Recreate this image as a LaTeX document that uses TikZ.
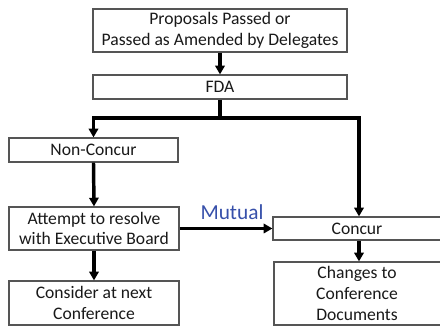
\documentclass[tikz,border=0pt]{standalone}
\usepackage{fontspec}
\setmainfont{Carlito}
\usepackage{tikz}
\usetikzlibrary{arrows.meta}

\definecolor{boxline}{RGB}{85,85,85}
\definecolor{boxtext}{RGB}{25,25,25}
\definecolor{mutualblue}{RGB}{55,80,170}

\tikzset{
  flowbox/.style={draw=boxline, line width=0.9pt, fill=white, text=boxtext,
    inner sep=0.75pt, align=center, font=\fontsize{13.2}{15.5}\selectfont},
  flowarrow/.style={line width=2.6pt, -{Triangle[length=6.5pt,width=7pt]}},
  flowline/.style={line width=2.6pt}
}

\begin{document}
\begin{tikzpicture}[x=0.75pt,y=0.75pt,yscale=-1,xscale=1]
\useasboundingbox (0,0) rectangle (440,327);

% Boxes
\node [flowbox, minimum width=254*0.75pt, minimum height=43*0.75pt] (proposals) at (220,30.5) {Proposals Passed or\\Passed as Amended by Delegates};
\node [flowbox, minimum width=254*0.75pt, minimum height=24*0.75pt] (fda) at (220,87) {FDA};
\node [flowbox, minimum width=169*0.75pt, minimum height=24*0.75pt] (noncon) at (93.5,150) {Non-Concur};
\node [flowbox, minimum width=170*0.75pt, minimum height=43*0.75pt] (attempt) at (94,228.5) {Attempt to resolve\\with Executive Board};
\node [flowbox, minimum width=170*0.75pt, minimum height=44*0.75pt] (consider) at (94,303) {Consider at next\\Conference};
\node [flowbox, minimum width=172*0.75pt, minimum height=23*0.75pt] (concur) at (359,228.5) {\hspace*{0pt}};
\node [flowbox, minimum width=170*0.75pt, minimum height=63*0.75pt] (changes) at (359,293.5) {\hspace*{0pt}};

% Text Node
\node [font=\fontsize{13.2}{15.5}\selectfont, text=boxtext] (concurtxt) at (357,228.5) {Concur};
\node [font=\fontsize{13.2}{15.5}\selectfont, text=boxtext, align=center] (changestxt) at (357,293.5) {Changes to\\Conference\\Documents};
\node [font=\fontsize{16}{18}\selectfont, text=mutualblue] (mutual) at (232,212) {Mutual};

% Connection
\draw [flowarrow] (proposals.south) -- (fda.north);
\coordinate (split) at (220,118);
\draw [flowline] (fda.south) -- (split);
\draw [flowarrow] (split) -| (noncon.north);
\draw [flowarrow] (split) -| (concur.north);
\draw [flowarrow] (noncon.south) -- (attempt.north);
\draw [flowarrow] (attempt.south) -- (consider.north);
\draw [flowarrow] (attempt.east) -- (concur.west);
\draw [flowarrow] (concur.south) -- (changes.north);

\end{tikzpicture}
\end{document}
